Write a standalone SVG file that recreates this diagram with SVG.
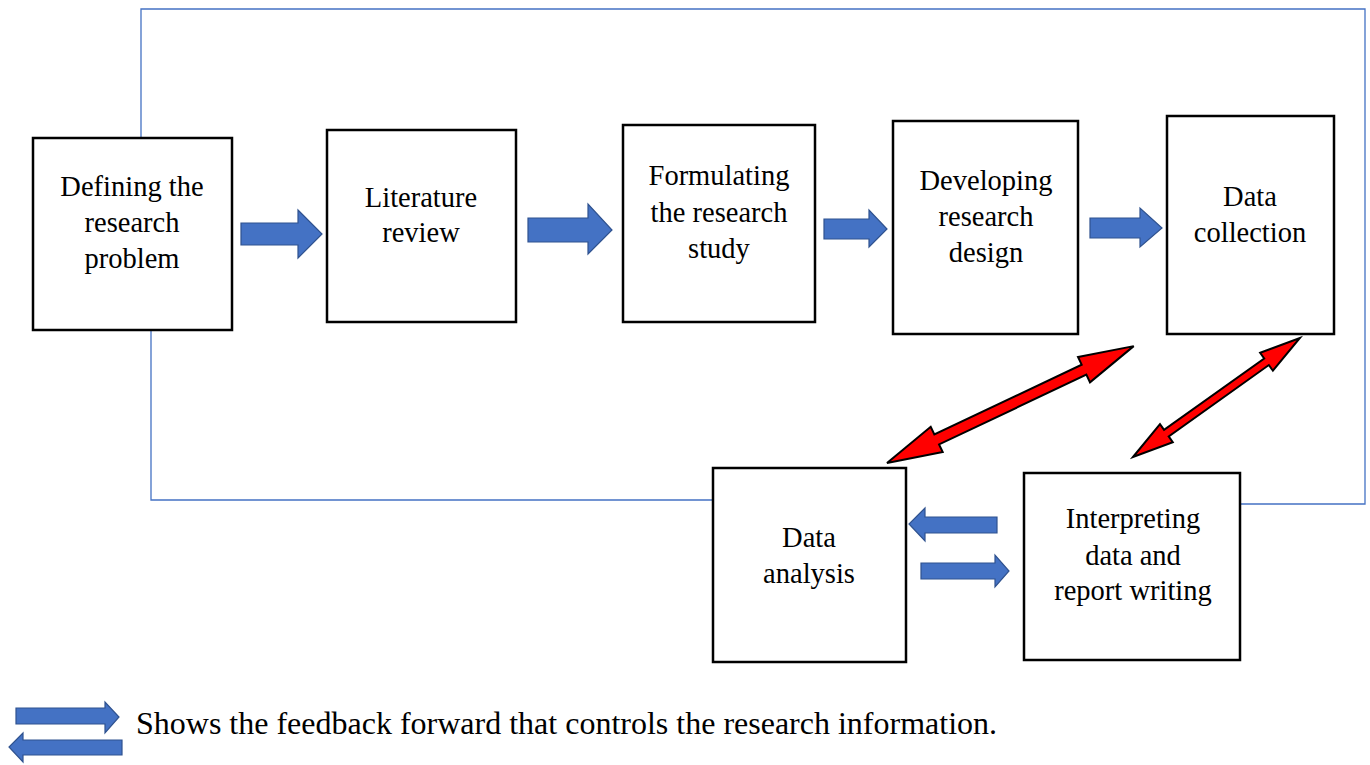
<svg xmlns="http://www.w3.org/2000/svg" width="1370" height="765" viewBox="0 0 1370 765">
<style>
.box{fill:#fff;stroke:#000;stroke-width:2.5}
.t{font-family:"Liberation Serif","Times New Roman",serif;font-size:28.5px;fill:#000;text-anchor:middle}
.lg{font-family:"Liberation Serif","Times New Roman",serif;font-size:32px;fill:#000}
.ba{fill:#4472C4;stroke:#2F528F;stroke-width:1.2}
.ra{fill:#FF0000;stroke:#000;stroke-width:2;stroke-linejoin:miter}
.fb{fill:none;stroke:#4472C4;stroke-width:1.3}
</style>
<rect width="1370" height="765" fill="#fff"/>
<g id="connectors">
<polyline class="fb" points="141,138 141,9 1365,9 1365,504 1240,504"/>
<polyline class="fb" points="151,330 151,500 713,500"/>
<polygon class="ba" points="241,223 298,223 298,210 322,234 298,258 298,245 241,245"/>
<polygon class="ba" points="528,218 588,218 588,204 612,230 588,254 588,242 528,242"/>
<polygon class="ba" points="824,219 869,219 869,210 887,229 869,247 869,239 824,239"/>
<polygon class="ba" points="1090,218 1140,218 1140,208 1162,228 1140,247 1140,238 1090,238"/>
<polygon class="ba" points="997,517 925,517 925,508 909,524 925,541 925,533 997,533"/>
<polygon class="ba" points="921,563 995,563 995,555 1009,571 995,587 995,579 921,579"/>
<polygon class="ra" transform="translate(887,463) rotate(-25.35)" points="0,0 55,-14 55,-5.5 218,-5.5 218,-14 273,0 218,14 218,5.5 55,5.5 55,14"/>
<polygon class="ra" transform="translate(1133,457) rotate(-35.5)" points="0,0 41,-11 41,-4 164,-4 164,-11 205,0 164,11 164,4 41,4 41,11"/>
</g>
<g id="n1"><rect class="box" x="33" y="138" width="199" height="192"/>
<text class="t" x="132" y="196">Defining the</text><text class="t" x="132" y="232">research</text><text class="t" x="132" y="268">problem</text></g>
<g id="n2"><rect class="box" x="327" y="130" width="189" height="192"/>
<text class="t" x="421" y="207">Literature</text><text class="t" x="421" y="242">review</text></g>
<g id="n3"><rect class="box" x="623" y="125" width="192" height="197"/>
<text class="t" x="719" y="185">Formulating</text><text class="t" x="719" y="222">the research</text><text class="t" x="719" y="258">study</text></g>
<g id="n4"><rect class="box" x="893" y="121" width="185" height="213"/>
<text class="t" x="986" y="190">Developing</text><text class="t" x="986" y="226">research</text><text class="t" x="986" y="262">design</text></g>
<g id="n5"><rect class="box" x="1167" y="116" width="167" height="218"/>
<text class="t" x="1250" y="206">Data</text><text class="t" x="1250" y="242">collection</text></g>
<g id="n6"><rect class="box" x="713" y="468" width="193" height="194"/>
<text class="t" x="809" y="547">Data</text><text class="t" x="809" y="583">analysis</text></g>
<g id="n7"><rect class="box" x="1024" y="473" width="216" height="187"/>
<text class="t" x="1133" y="528">Interpreting</text><text class="t" x="1133" y="565">data and</text><text class="t" x="1133" y="600">report writing</text></g>
<g id="legend">
<polygon class="ba" points="16,708 105,708 105,702 119,717 105,733 105,724 16,724"/>
<polygon class="ba" points="122,740 23,740 23,733 9,747 23,762 23,755 122,755"/>
<text class="lg" x="136" y="734">Shows the feedback forward that controls the research information.</text>
</g>
</svg>
